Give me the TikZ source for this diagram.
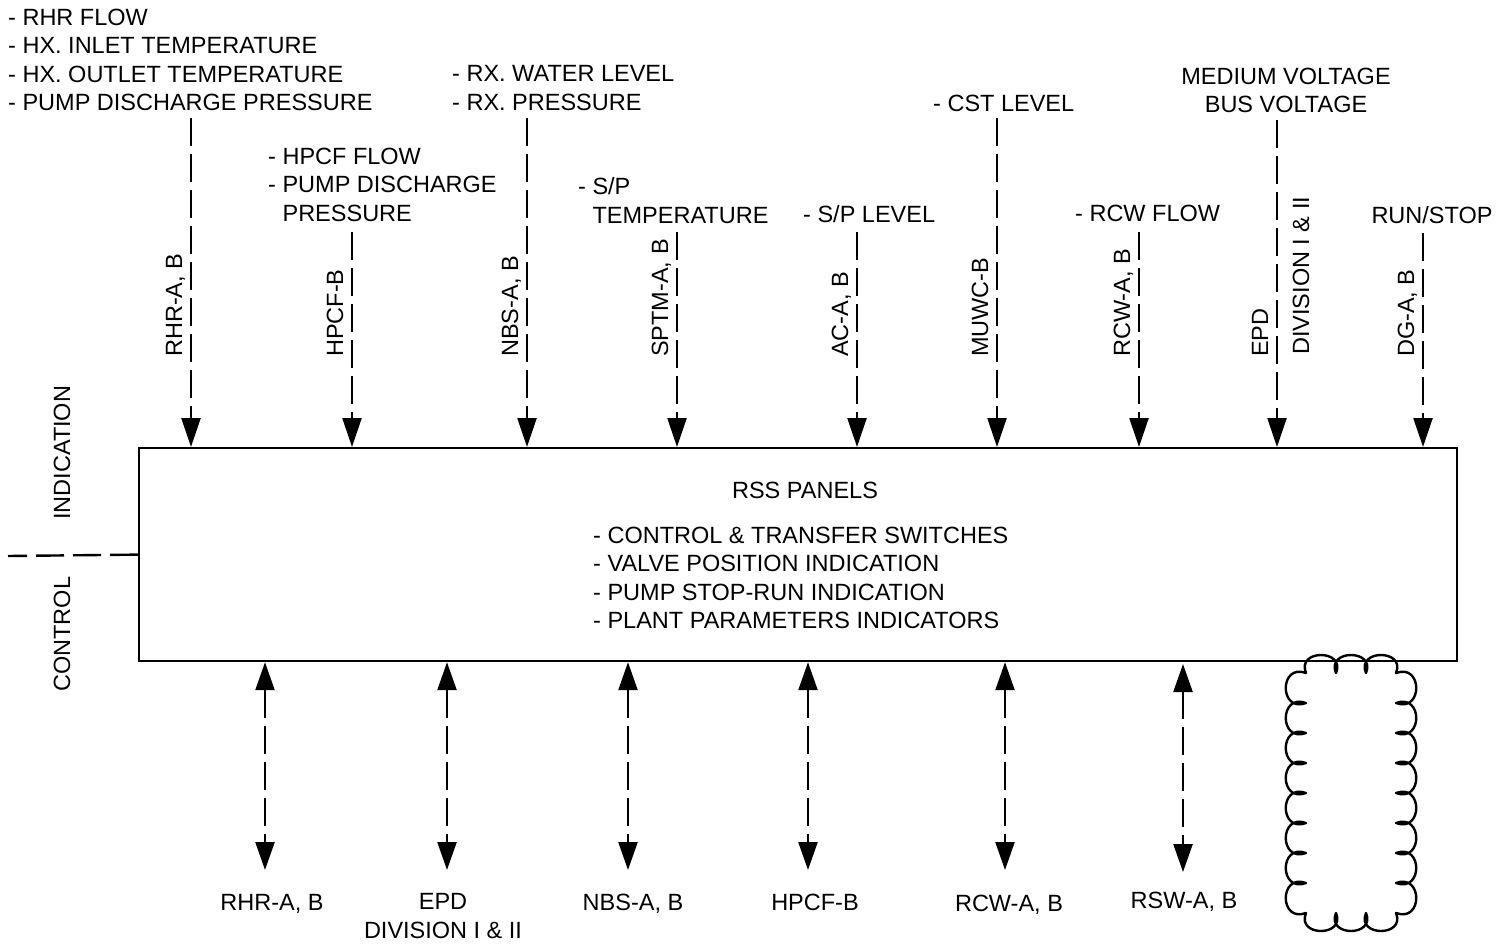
\documentclass[tikz,border=0pt]{standalone}
\usepackage{fontspec}
\setmainfont{Liberation Sans}
\usetikzlibrary{arrows.meta}
\begin{document}
\begin{tikzpicture}[x=1pt,y=-1pt,
  txt/.style={font=\fontsize{23.5}{28.5}\selectfont, inner sep=0pt, align=left},
  vlab/.style={txt, rotate=90, anchor=base west},
  link/.style={line width=2.4pt, dash pattern=on 28pt off 8pt, -{Triangle[length=29pt,width=19pt]}},
  dlink/.style={line width=2.4pt, dash pattern=on 28pt off 8pt, {Triangle[length=28pt,width=19pt]}-{Triangle[length=28pt,width=19pt]}},
  panel/.style={draw, line width=2.2pt, inner sep=0pt, minimum width=1318pt, minimum height=213pt, anchor=north west}
]
\useasboundingbox (0,0) rectangle (1507,945);

% main box
\node[panel] (box) at (138,447) {};
\node[txt, anchor=center] (title) at (805,490) {RSS PANELS};
\node[txt, anchor=north west] (list) at (593,526.5) {- CONTROL \& TRANSFER SWITCHES\\- VALVE POSITION INDICATION\\- PUMP STOP-RUN INDICATION\\- PLANT PARAMETERS INDICATORS};

% left side
\node[vlab] (ind) at (70,520) {INDICATION};
\node[vlab] (ctl) at (70,692) {CONTROL};
\coordinate (lend) at (8,556);
\draw[line width=2.4pt, dash pattern=on 28pt off 9pt] (box.west) -- (lend);

% top source texts
\node[txt, anchor=north west] (srcRHR) at (8,8.5) {- RHR FLOW\\- HX. INLET TEMPERATURE\\- HX. OUTLET TEMPERATURE\\- PUMP DISCHARGE PRESSURE};
\node[txt, anchor=north west] (srcHPCF) at (268,147.5) {- HPCF FLOW\\- PUMP DISCHARGE\\\hspace*{14.4pt}PRESSURE};
\node[txt, anchor=north west] (srcNBS) at (452,65.5) {- RX. WATER LEVEL\\- RX. PRESSURE};
\node[txt, anchor=north west] (srcSPTM) at (578,177.5) {- S/P\\\hspace*{14.4pt}TEMPERATURE};
\node[txt, anchor=north west] (srcAC) at (803,205.5) {- S/P LEVEL};
\node[txt, anchor=north west] (srcMUWC) at (933,94.5) {- CST LEVEL};
\node[txt, anchor=north west] (srcRCW) at (1075,204.5) {- RCW FLOW};
\node[txt, anchor=north, align=center] (srcEPD) at (1286,67.5) {MEDIUM VOLTAGE\\BUS VOLTAGE};
\node[txt, anchor=base] (srcDG) at (1432,223.4) {RUN/STOP};

% top arrows
\coordinate (t1) at (191,118);
\coordinate (t2) at (352,232);
\coordinate (t3) at (527,118);
\coordinate (t4) at (677,232);
\coordinate (t5) at (857,232);
\coordinate (t6) at (997,118);
\coordinate (t7) at (1139,232);
\coordinate (t8) at (1277,120);
\coordinate (t9) at (1423,233);
\foreach \t in {t1,t2,t3,t4,t5,t6,t7,t8,t9}{
  \draw[link] (\t) -- (\t |- box.north);
}

% rotated labels
\node[vlab] (v1) at (182,357) {RHR-A, B};
\node[vlab] (v2) at (343,357) {HPCF-B};
\node[vlab] (v3) at (518,357) {NBS-A, B};
\node[vlab] (v4) at (668,357) {SPTM-A, B};
\node[vlab] (v5) at (848,357) {AC-A, B};
\node[vlab] (v6) at (988,357) {MUWC-B};
\node[vlab] (v7) at (1130,357) {RCW-A, B};
\node[vlab] (v8) at (1268,357) {EPD};
\node[vlab] (v8b) at (1309,355) {DIVISION I \& II};
\node[vlab] (v9) at (1414,357) {DG-A, B};

% bottom arrows
\coordinate (b1) at (265,870);
\coordinate (b2) at (447,870);
\coordinate (b3) at (628,870);
\coordinate (b4) at (808,870);
\coordinate (b5) at (1005,870);
\coordinate (b6) at (1183,872);
\foreach \b in {b1,b2,b3,b4,b5}{
  \draw[dlink] (\b |- box.south) -- (\b);
}
\coordinate (b6top) at (1183,664);
\draw[dlink] (b6top) -- (b6);

% bottom labels
\node[txt, anchor=base] (d1) at (272,910.5) {RHR-A, B};
\node[txt, anchor=north, align=center] (d2) at (443,893.5) {EPD\\DIVISION I \& II};
\node[txt, anchor=base] (d3) at (633,910.5) {NBS-A, B};
\node[txt, anchor=base] (d4) at (815,910.5) {HPCF-B};
\node[txt, anchor=base] (d5) at (1009,911.5) {RCW-A, B};
\node[txt, anchor=base] (d6) at (1184,908.5) {RSW-A, B};

% cloud
\draw[line width=2.4pt, line join=round]
  (1306,673)
  \foreach \i in {0,1,2}{
    .. controls ({1306+30*\i-10},649) and ({1306+30*\i+40},649) .. ({1306+30*\i+30},673)
  }
  \foreach \j in {0,...,7}{
    .. controls (1423,{673+30*\j-10}) and (1423,{673+30*\j+40}) .. (1396,{673+30*\j+30})
  }
  \foreach \i in {0,1,2}{
    .. controls ({1396-30*\i+10},937) and ({1396-30*\i-40},937) .. ({1396-30*\i-30},913)
  }
  \foreach \j in {0,...,7}{
    .. controls (1279,{913-30*\j+10}) and (1279,{913-30*\j-40}) .. (1306,{913-30*\j-30})
  }
  -- cycle;
\end{tikzpicture}
\end{document}
